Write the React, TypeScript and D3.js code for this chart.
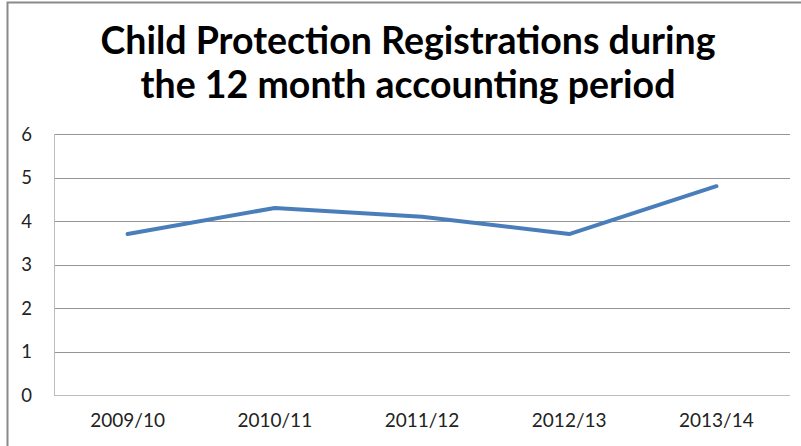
import { useEffect, useRef } from "react";
import * as d3 from "d3";

const periods = ["2009/10", "2010/11", "2011/12", "2012/13", "2013/14"];
const registrations = [3.7, 4.3, 4.1, 3.7, 4.8];
const yTicks = [0, 1, 2, 3, 4, 5, 6];
const titleLines = ["Child Protection Registrations during", "the 12 month accounting period"];

const W = 801;
const H = 446;
const margin = { top: 134, right: 11, bottom: 51, left: 54 };

export default function App() {
  const svgRef = useRef<SVGSVGElement>(null);

  useEffect(() => {
    if (!svgRef.current) return;
    const svg = d3.select(svgRef.current);
    svg.selectAll("*").remove();

    const x = d3.scaleBand().domain(periods).range([margin.left, W - margin.right]);
    const y = d3.scaleLinear().domain([0, 6]).range([H - margin.bottom, margin.top]);

    // outer chart frame
    svg.append("rect")
      .attr("x", 7.5).attr("y", 2.5)
      .attr("width", W + 20).attr("height", H + 20)
      .attr("fill", "#fff")
      .attr("stroke", "#8a8a8a")
      .attr("stroke-width", 2);

    // title
    const title = svg.append("text")
      .attr("text-anchor", "middle")
      .style("font-family", "Lato, 'Open Sans', sans-serif")
      .style("font-weight", "bold")
      .style("font-size", "37.5px")
      .style("fill", "#000");
    titleLines.forEach((line, i) => {
      title.append("tspan").attr("x", 408).attr("y", 54 + i * 44).text(line);
    });

    // gridlines
    svg.append("g")
      .selectAll("line")
      .data(yTicks)
      .join("line")
      .attr("x1", margin.left)
      .attr("x2", W - margin.right)
      .attr("y1", (d) => Math.round(y(d)) + 0.5)
      .attr("y2", (d) => Math.round(y(d)) + 0.5)
      .attr("stroke", (d) => (d === 0 ? "#bdbdbd" : "#959595"))
      .attr("stroke-width", 1);

    // y axis line
    svg.append("line")
      .attr("x1", margin.left + 0.5).attr("x2", margin.left + 0.5)
      .attr("y1", y(6)).attr("y2", y(0))
      .attr("stroke", "#bdbdbd");

    // y labels
    svg.append("g")
      .selectAll("text")
      .data(yTicks)
      .join("text")
      .attr("x", 32)
      .attr("y", (d) => y(d) + 6.5)
      .attr("text-anchor", "end")
      .style("font-family", "Lato, 'Open Sans', sans-serif")
      .style("font-size", "18.5px")
      .style("fill", "#222")
      .text((d) => d);

    // x labels
    svg.append("g")
      .selectAll("text")
      .data(periods)
      .join("text")
      .attr("x", (d) => (x(d) ?? 0) + x.bandwidth() / 2)
      .attr("y", 427)
      .attr("text-anchor", "middle")
      .style("font-family", "Lato, 'Open Sans', sans-serif")
      .style("font-size", "19px")
      .style("fill", "#222")
      .text((d) => d);

    // series line
    const line = d3.line<number>()
      .x((_, i) => (x(periods[i]) ?? 0) + x.bandwidth() / 2)
      .y((d) => y(d));

    svg.append("path")
      .datum(registrations)
      .attr("d", line)
      .attr("fill", "none")
      .attr("stroke", "#4a7ebb")
      .attr("stroke-width", 4)
      .attr("stroke-linecap", "round")
      .attr("stroke-linejoin", "round");
  }, []);

  return (
    <svg
      ref={svgRef}
      width={W}
      height={H}
      style={{ position: "absolute", left: 0, top: 0, background: "#fff" }}
    />
  );
}
